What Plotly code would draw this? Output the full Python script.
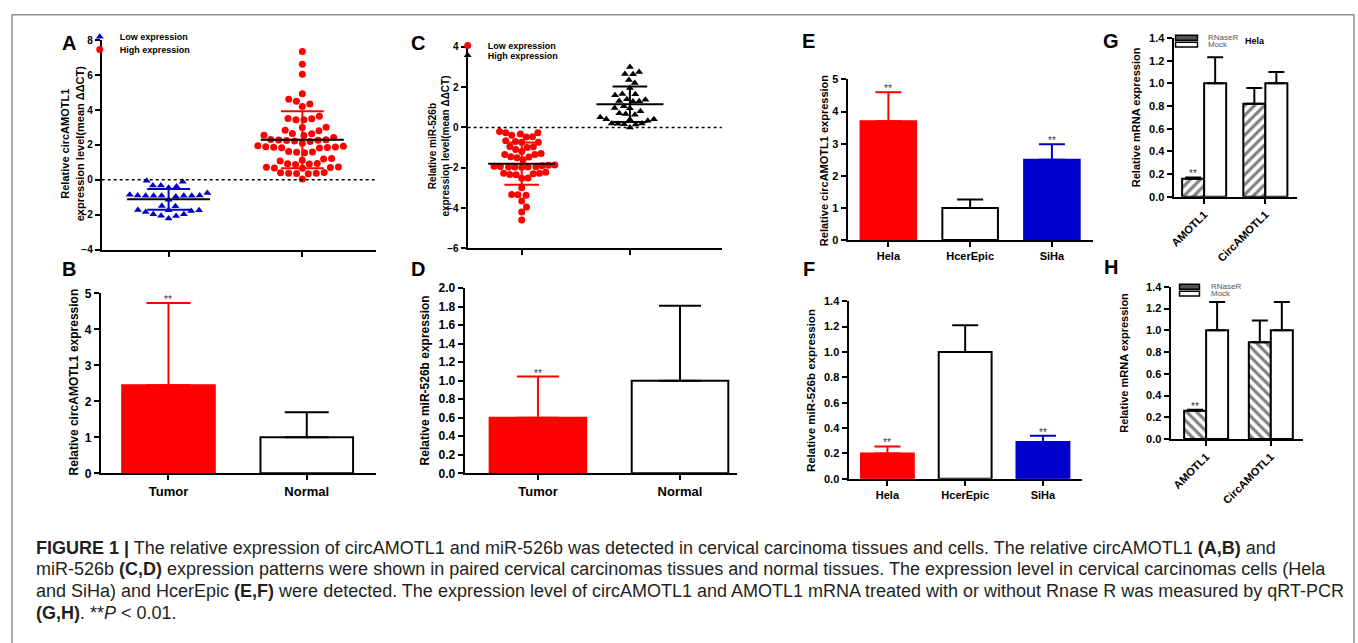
import numpy as np
import plotly.graph_objects as go

W, H = 1358, 643
FONT = "Liberation Sans, Arial, sans-serif"
RED = "#ff0000"
BLUE = "#0000cc"

# ---------------- data ----------------
# Panel A: circAMOTL1 relative expression (mean ddCT)
a_low = [-0.11, -0.05, -0.33, -0.39, -0.33, -0.45, -0.76, -0.91, -0.90, -1.14, -0.92,
         -0.91, -0.90, -0.91, -0.92, -0.86, -0.95, -1.51, -1.50, -1.74, -1.85, -1.74,
         -1.73, -1.79, -1.98, -1.97, -2.07, -2.06, -2.22]
a_high = [7.35, 6.63, 6.05, 4.93, 4.62, 4.50, 4.35, 4.20, 3.65, 3.52, 3.45, 3.44, 3.50,
          3.02, 3.00, 2.84, 2.82, 2.65, 2.55, 2.54, 2.64, 2.42, 2.30, 2.28, 2.25, 2.20,
          2.22, 2.27, 2.31, 2.10, 1.90, 1.88, 1.85, 1.84, 1.82, 1.86, 1.95, 1.92, 1.60,
          1.55, 1.58, 1.62, 1.20, 1.22, 1.12, 1.08, 0.92, 0.90, 0.88, 0.93, 0.68, 0.72,
          0.66, 0.70, 0.74, 0.40, 0.36, 0.35, 0.38, 0.42, 0.37, 0.05]
a_low_mean, a_low_sd = -1.12, 0.60
a_high_mean, a_high_sd = 2.30, 1.63

# Panel C: miR-526b relative expression (mean ddCT)
c_low = [-0.26, -0.33, -0.47, -0.46, -0.39, -0.27, -0.20, -0.70, -0.74, -0.73, -0.66,
         -0.95, -1.00, -0.96, -1.20, -1.35, -1.47, -1.50, -1.60, -1.46, -1.34, -1.30,
         -1.10, -1.87, -1.90, -1.97, -1.98, -1.96, -1.94, -1.97, -1.95, -1.93, -1.88,
         -2.23, -2.28, -2.35, -2.34, -2.30, -2.27, -2.52, -2.51, -3.00, -3.33, -3.37,
         -3.34, -3.65, -3.95, -4.20, -4.60]
c_high = [3.00, 2.65, 2.64, 2.75, 2.35, 2.20, 1.95, 1.65, 1.60, 1.66, 1.37, 1.30, 1.31,
          1.29, 1.40, 0.95, 1.05, 0.96, 0.70, 0.63, 0.67, 0.80, 0.40, 0.33, 0.50, 0.41,
          0.39, 0.18, 0.15, 0.16, 0.19, 0.20, 0.00]
c_low_mean, c_low_sd = -1.80, 1.05
c_high_mean, c_high_sd = 1.15, 0.88

# Panel B: circAMOTL1 in tissues
b_categories = ["Tumor", "Normal"]
b_values = [2.45, 1.00]
b_errors = [2.28, 0.70]
b_sig = ["**", ""]

# Panel D: miR-526b in tissues
d_categories = ["Tumor", "Normal"]
d_values = [0.60, 1.00]
d_errors = [0.445, 0.81]
d_sig = ["**", ""]

# Panel E: circAMOTL1 in cells
e_categories = ["Hela", "HcerEpic", "SiHa"]
e_values = [3.70, 1.00, 2.50]
e_errors = [0.90, 0.26, 0.48]
e_sig = ["**", "", "**"]

# Panel F: miR-526b in cells
f_categories = ["Hela", "HcerEpic", "SiHa"]
f_values = [0.20, 1.00, 0.29]
f_errors = [0.055, 0.21, 0.05]
f_sig = ["**", "", "**"]

# Panels G/H: RNase R treatment
gh_categories = ["AMOTL1", "CircAMOTL1"]
g_rnaser = [0.16, 0.82]
g_rnaser_err = [0.01, 0.14]
g_mock = [1.00, 1.00]
g_mock_err = [0.23, 0.10]
h_rnaser = [0.26, 0.89]
h_rnaser_err = [0.01, 0.20]
h_mock = [1.00, 1.00]
h_mock_err = [0.26, 0.26]
gh_sig = ["**", ""]

bar_fill_3 = [RED, "white", BLUE]
bar_line_3 = [RED, "black", BLUE]

# ---------------- helpers ----------------
def xd(x0, x1):
    return [x0 / W, x1 / W]


def yd(top, bottom):
    return [1 - bottom / H, 1 - top / H]


def ids(n):
    s = "" if n == 1 else str(n)
    return "x" + s, "y" + s, "xaxis" + s, "yaxis" + s


def beeswarm(values, ypx, xpx, diam):
    v = np.asarray(values, float)
    order = np.argsort(v, kind="stable")
    px, py = [], []
    out = np.zeros(len(v))
    for i in order:
        y = v[i] * ypx
        cands = [0.0]
        for a, b in zip(px, py):
            dy = y - b
            if abs(dy) < diam:
                dx = np.sqrt(diam ** 2 - dy ** 2)
                cands += [a + dx, a - dx]
        cands.sort(key=abs)
        chosen = 0.0
        for c in cands:
            if all((c - a) ** 2 + (y - b) ** 2 >= diam ** 2 - 1e-6 for a, b in zip(px, py)):
                chosen = c
                break
        px.append(chosen)
        py.append(y)
        out[i] = chosen / xpx
    return out


def axis_style(size, **kw):
    d = dict(showline=True, linecolor="black", linewidth=2, ticks="outside", ticklen=5,
             tickwidth=2, tickcolor="black", showgrid=False, zeroline=False,
             tickfont=dict(family=FONT, size=size, color="black", weight="bold"))
    d.update(kw)
    return d


fig = go.Figure()
layout = {}
annotations = []
shapes = []

# ---------------- panels A and C (scatter) ----------------
def scatter_panel(n, dom_x, dom_y, yrange, xrange, lo, hi, lo_stats, hi_stats,
                  lo_style, hi_style, legends, ypx, xpx, tsize):
    xa, ya, xk, yk = ids(n)
    for idx, (vals, st, name, lg) in enumerate([(lo, lo_style, "Low expression", legends[0]),
                                                (hi, hi_style, "High expression", legends[1])]):
        off = beeswarm(vals, ypx, xpx, 8.0)
        fig.add_trace(go.Scatter(
            x=idx + off, y=vals, mode="markers", name=name, xaxis=xa, yaxis=ya,
            legend=lg,
            marker=dict(symbol=st["symbol"], size=st["size"], color=st["color"],
                        line=dict(width=0))))
    for idx, ((m, s), st) in enumerate([(lo_stats, lo_style), (hi_stats, hi_style)]):
        xs = [idx - 0.16, idx + 0.16, None, idx - 0.16, idx + 0.16, None, idx, idx]
        ys = [m + s, m + s, None, m - s, m - s, None, m - s, m + s]
        fig.add_trace(go.Scatter(x=xs, y=ys, mode="lines", xaxis=xa, yaxis=ya,
                                 showlegend=False, hoverinfo="skip",
                                 line=dict(color=st["bar"], width=2)))
        fig.add_trace(go.Scatter(x=[idx - 0.31, idx + 0.31], y=[m, m], mode="lines",
                                 xaxis=xa, yaxis=ya, showlegend=False, hoverinfo="skip",
                                 line=dict(color="black", width=2)))
    layout[xk] = axis_style(tsize, domain=dom_x, range=xrange, anchor=ya,
                            tickvals=[0, 1], showticklabels=False)
    layout[yk] = axis_style(tsize, domain=dom_y, range=yrange, anchor=xa, dtick=2)
    shapes.append(dict(type="line", xref=f"{xa} domain", yref=ya, x0=0, x1=1, y0=0, y1=0,
                       line=dict(color="black", width=1.5, dash="dot")))


scatter_panel(1, xd(98, 373), yd(34, 248), [-4, 8], [-0.5, 1.55], a_low, a_high,
              (a_low_mean, a_low_sd), (a_high_mean, a_high_sd),
              dict(symbol="triangle-up", size=7, color=BLUE, bar=BLUE),
              dict(symbol="circle", size=7, color=RED, bar=RED),
              ("legend", "legend3"), 214 / 12, 134, 10)
scatter_panel(2, xd(465, 720), yd(40.7, 246.7), [-6, 4], [-0.5, 1.85], c_low, c_high,
              (c_low_mean, c_low_sd), (c_high_mean, c_high_sd),
              dict(symbol="circle", size=7, color=RED, bar=RED),
              dict(symbol="triangle-up", size=7, color="black", bar="black"),
              ("legend2", "legend4"), 206 / 10, 138, 10)

# ---------------- simple bar panels B, D, E, F ----------------
def bar_panel(n, dom_x, dom_y, cats, vals, errs, sig, fills, lines, bw, capw,
              yrange, dtick, tfmt, tsize, xsize, xrange):
    xa, ya, xk, yk = ids(n)
    for c, v, e, fc, lc in zip(cats, vals, errs, fills, lines):
        fig.add_trace(go.Bar(
            x=[c], y=[v], xaxis=xa, yaxis=ya, width=bw, offset=-bw / 2, showlegend=False,
            marker=dict(color=fc, line=dict(color=lc, width=2)),
            error_y=dict(type="data", array=[e], arrayminus=[0], symmetric=False,
                         color=lc, thickness=2, width=capw)))
    for c, v, e, s in zip(cats, vals, errs, sig):
        if s:
            annotations.append(dict(x=c, y=v + e, xref=xa, yref=ya, text=s, showarrow=False,
                                    yanchor="bottom", yshift=-4,
                                    font=dict(family=FONT, size=10, color="#333333")))
    layout[xk] = axis_style(xsize, domain=dom_x, anchor=ya, type="category",
                            categoryorder="array", categoryarray=cats, range=xrange)
    layout[yk] = axis_style(tsize, domain=dom_y, range=yrange, anchor=xa,
                            dtick=dtick, tickformat=tfmt)


bar_panel(5, xd(97, 373), yd(292.7, 476.7), b_categories, b_values, b_errors, b_sig,
          [RED, "white"], [RED, "black"], 0.67, 22, [0, 5], 1, "d", 12, 13, [-0.49, 1.5])
bar_panel(6, xd(462, 735), yd(287.3, 476.7), d_categories, d_values, d_errors, d_sig,
          [RED, "white"], [RED, "black"], 0.68, 21, [0, 2], 0.2, ".1f", 12, 13,
          [-0.516, 1.4])
bar_panel(3, xd(846, 1092), yd(74, 238.3), e_categories, e_values, e_errors, e_sig,
          bar_fill_3, bar_line_3, 0.68, 13, [0, 5], 1, "d", 11, 11, [-0.5, 2.5])
bar_panel(7, xd(847, 1081), yd(300.7, 482.3), f_categories, f_values, f_errors, f_sig,
          bar_fill_3, bar_line_3, 0.68, 13, [0, 1.4], 0.2, ".1f", 11, 11, [-0.5, 2.5])

# ---------------- grouped hatched panels G, H ----------------
def grouped_panel(n, dom_x, dom_y, rn, rn_err, mk, mk_err, shape, bw, xrange):
    xa, ya, xk, yk = ids(n)
    fig.add_trace(go.Bar(
        x=gh_categories, y=rn, name="RNaseR", xaxis=xa, yaxis=ya, width=bw, offset=-bw,
        showlegend=False,
        marker=dict(color="white", line=dict(color="black", width=2),
                    pattern=dict(shape=shape, fgcolor="black", bgcolor="white", size=7,
                                 solidity=0.45)),
        error_y=dict(type="data", array=rn_err, arrayminus=[0, 0], symmetric=False,
                     color="black", thickness=2, width=8)))
    fig.add_trace(go.Bar(
        x=gh_categories, y=mk, name="Mock", xaxis=xa, yaxis=ya, width=bw, offset=0,
        showlegend=False,
        marker=dict(color="white", line=dict(color="black", width=2)),
        error_y=dict(type="data", array=mk_err, arrayminus=[0, 0], symmetric=False,
                     color="black", thickness=2, width=8)))
    for i, (v, e, s) in enumerate(zip(rn, rn_err, gh_sig)):
        if s:
            annotations.append(dict(x=i - bw / 2, y=v + e, xref=xa, yref=ya, text=s,
                                    showarrow=False, yanchor="bottom", yshift=-4,
                                    font=dict(family=FONT, size=10, color="#333333")))
    layout[xk] = axis_style(11, domain=dom_x, anchor=ya, type="category",
                            categoryorder="array", categoryarray=gh_categories,
                            range=xrange, tickangle=-45)
    layout[yk] = axis_style(11, domain=dom_y, range=[0, 1.4], anchor=xa,
                            dtick=0.2, tickformat=".1f")


grouped_panel(4, xd(1173, 1297), yd(31.7, 194), g_rnaser, g_rnaser_err, g_mock, g_mock_err,
              "/", 0.36, [-0.5, 1.52])
grouped_panel(8, xd(1170, 1303), yd(286, 441.7), h_rnaser, h_rnaser_err, h_mock, h_mock_err,
              "\\", 0.34, [-0.55, 1.5])

# legends of G/H (swatches + labels)
for (sx0, sx1, r_y, m_y, tx) in [(1175, 1197, 31.5, 38.5, 1206), (1179, 1199, 286, 293, 1209)]:
    shapes.append(dict(type="rect", xref="paper", yref="paper", x0=sx0 / W, x1=sx1 / W,
                       y0=1 - (r_y + 2.5) / H, y1=1 - (r_y - 2.5) / H,
                       line=dict(color="black", width=1.5), fillcolor="#555555"))
    shapes.append(dict(type="rect", xref="paper", yref="paper", x0=sx0 / W, x1=sx1 / W,
                       y0=1 - (m_y + 2.5) / H, y1=1 - (m_y - 2.5) / H,
                       line=dict(color="black", width=1.5), fillcolor="white"))
    annotations.append(dict(x=tx / W, y=1 - r_y / H, xref="paper", yref="paper",
                            text="RNaseR", showarrow=False, xanchor="left", yanchor="middle",
                            font=dict(family=FONT, size=8, color="#555555")))
    annotations.append(dict(x=tx / W, y=1 - m_y / H, xref="paper", yref="paper",
                            text="Mock", showarrow=False, xanchor="left", yanchor="middle",
                            font=dict(family=FONT, size=8, color="#555555")))
annotations.append(dict(x=1243 / W, y=1 - 35 / H, xref="paper", yref="paper", text="Hela",
                        showarrow=False, xanchor="left", yanchor="middle",
                        font=dict(family=FONT, size=9, color="black", weight="bold")))

# ---------------- axis titles ----------------
titles = [
    ("Relative circAMOTL1<br>expression level(mean ΔΔCT)", 68.5, 139, 11),
    ("Relative miR-526b<br>expression level(mean ΔΔCT)", 436.5, 142.5, 10),
    ("Relative circAMOTL1 expression", 822, 157, 11),
    ("Relative mRNA expression", 1135, 113, 11),
    ("Relative circAMOTL1 expression", 70, 383, 12),
    ("Relative miR-526b expression", 422, 382, 12),
    ("Relative miR-526b expression", 810, 392, 11.5),
    ("Relative mRNA expression", 1123, 364, 11),
]
for t, x, y, s in titles:
    annotations.append(dict(x=x / W, y=1 - y / H, xref="paper", yref="paper", text=t,
                            textangle=-90, showarrow=False, xanchor="center",
                            yanchor="middle",
                            font=dict(family=FONT, size=s, color="black", weight="bold")))

# ---------------- panel letters ----------------
for letter, x, y in [("A", 65, 37), ("C", 415, 37), ("E", 807, 35), ("G", 1110, 35),
                     ("B", 65, 268), ("D", 415, 268), ("F", 807, 268), ("H", 1110, 266)]:
    annotations.append(dict(x=x / W, y=1 - y / H, xref="paper", yref="paper", text=letter,
                            showarrow=False, xanchor="center", yanchor="middle",
                            font=dict(family=FONT, size=20, color="black", weight="bold")))

# ---------------- caption ----------------
caption_lines = [
    "<b>FIGURE 1 |</b> The relative expression of circAMOTL1 and miR-526b was detected in "
    "cervical carcinoma tissues and cells. The relative circAMOTL1 <b>(A,B)</b> and",
    "miR-526b <b>(C,D)</b> expression patterns were shown in paired cervical carcinomas "
    "tissues and normal tissues. The expression level in cervical carcinomas cells (Hela",
    "and SiHa) and HcerEpic <b>(E,F)</b> were detected. The expression level of circAMOTL1 "
    "and AMOTL1 mRNA treated with or without Rnase R was measured by qRT-PCR",
    "<b>(G,H)</b>. **<i>P</i> &lt; 0.01.",
]
for i, line in enumerate(caption_lines):
    annotations.append(dict(x=30 / W, y=1 - (553 + 22 * i) / H, xref="paper",
                            yref="paper", text=line, showarrow=False, xanchor="left",
                            yanchor="middle", align="left",
                            font=dict(family=FONT, size=18, color="#231f20")))

# frame
shapes.append(dict(type="rect", xref="paper", yref="paper", x0=8 / W, x1=1354 / W,
                   y0=-0.05, y1=1 - 8 / H, line=dict(color="#555555", width=1),
                   fillcolor="rgba(0,0,0,0)", layer="below"))

leg_common = dict(bgcolor="rgba(0,0,0,0)", xanchor="left", yanchor="top",
                  font=dict(family=FONT, size=9, color="black", weight="bold"),
                  itemsizing="trace", tracegroupgap=0)
layout["legend"] = dict(x=76 / W, y=1 - 15.5 / H, **leg_common)
layout["legend3"] = dict(x=76 / W, y=1 - 28.5 / H, **leg_common)
layout["legend2"] = dict(x=445 / W, y=1 - 24.5 / H, **leg_common)
layout["legend4"] = dict(x=445 / W, y=1 - 34.5 / H, **leg_common)

fig.update_layout(
    width=W, height=H, autosize=False,
    margin=dict(l=0, r=0, t=0, b=0),
    paper_bgcolor="white", plot_bgcolor="rgba(0,0,0,0)",
    barmode="overlay", showlegend=True,
    annotations=annotations, shapes=shapes,
    font=dict(family=FONT, color="black"),
    **layout,
)

fig.write_html(
    "out.html",
    config={"displayModeBar": False},
    post_script="document.body.style.margin='0px';document.body.style.padding='0px';"
                "document.body.style.overflow='hidden';",
)
